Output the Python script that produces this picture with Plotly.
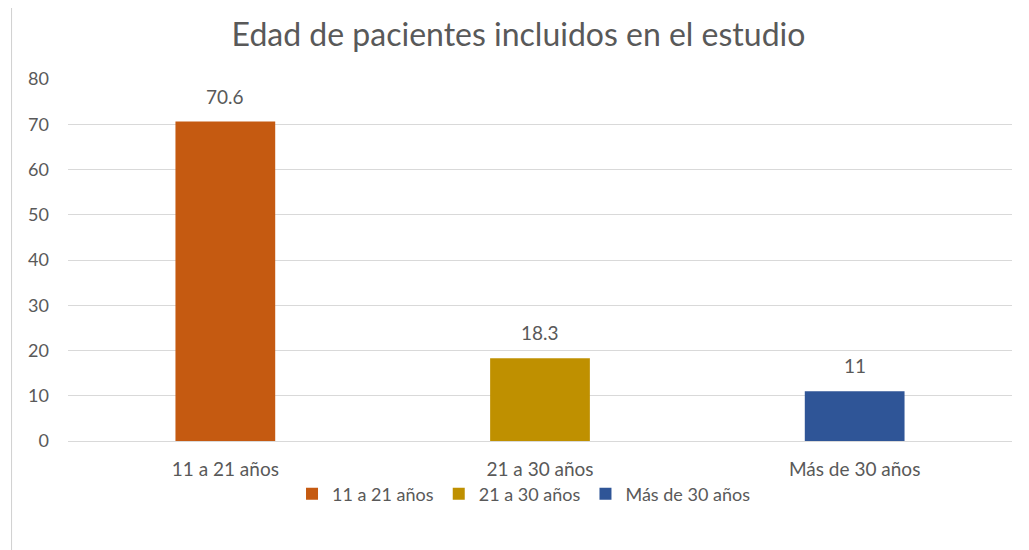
import plotly.graph_objects as go

categories = ["11 a 21 años", "21 a 30 años", "Más de 30 años"]
values = [70.6, 18.3, 11]
labels = ["70.6", "18.3", "11"]
colors = ["#C55A11", "#BF9000", "#2F5597"]
y_ticks = [0, 10, 20, 30, 40, 50, 60, 70, 80]

FONT = "Lato, Open Sans, sans-serif"
fig = go.Figure()
for cat, val, col in zip(categories, values, colors):
    fig.add_trace(go.Bar(
        x=[cat], y=[val], name=cat, marker=dict(color=col, line=dict(width=0)),
        width=0.317,
    ))

annotations = [
    dict(x=cat, y=val, xref="x", yref="y", text=lab, showarrow=False,
         yanchor="bottom", yshift=12, font=dict(size=19, color="#595959", family=FONT))
    for cat, val, lab in zip(categories, values, labels)
]

# page has an 8px body offset, so figure is sized/placed to compensate
W, H = 1021, 542
ml, mr, mt, mb = 59.5, 16.5, 71, 109
pw, ph = W - ml - mr, H - mt - mb
fig.update_layout(
    width=W, height=H,
    margin=dict(l=ml, r=mr, t=mt, b=mb, autoexpand=False),
    paper_bgcolor="white", plot_bgcolor="white",
    font=dict(family=FONT, color="#595959"),
    title=dict(text="Edad de pacientes incluidos en el estudio",
               x=0.5, xref="container", xanchor="center",
               y=1 - 27 / H, yanchor="middle",
               font=dict(size=32, color="#595959", family=FONT)),
    barmode="overlay",
    showlegend=True,
    legend=dict(orientation="h", x=0.5 - 16 / pw, xanchor="center", xref="paper",
                y=-(486 - mt - ph) / ph, yanchor="middle",
                bgcolor="rgba(0,0,0,0)", borderwidth=0,
                font=dict(size=18, color="#595959"),
                itemwidth=30, traceorder="normal"),
    xaxis=dict(categoryorder="array", categoryarray=categories,
               tickfont=dict(size=19, color="#595959"), showgrid=False,
               showline=False, ticks="", ticklabelstandoff=15),
    yaxis=dict(range=[0, 80], tickvals=y_ticks, showgrid=True,
               gridcolor="#D9D9D9", gridwidth=1, zeroline=True,
               zerolinecolor="#D9D9D9", zerolinewidth=1,
               tickfont=dict(size=18, color="#595959"), ticks="",
               ticklabelstandoff=18),
    annotations=annotations,
    shapes=[dict(type="line", xref="paper", yref="paper",
                 x0=(3 - ml) / pw, x1=(3 - ml) / pw,
                 y0=-(H - mt - ph) / ph, y1=1 + (mt + 3) / ph,
                 line=dict(color="#D0D0D0", width=1))],
)

fig.write_html("out.html")
